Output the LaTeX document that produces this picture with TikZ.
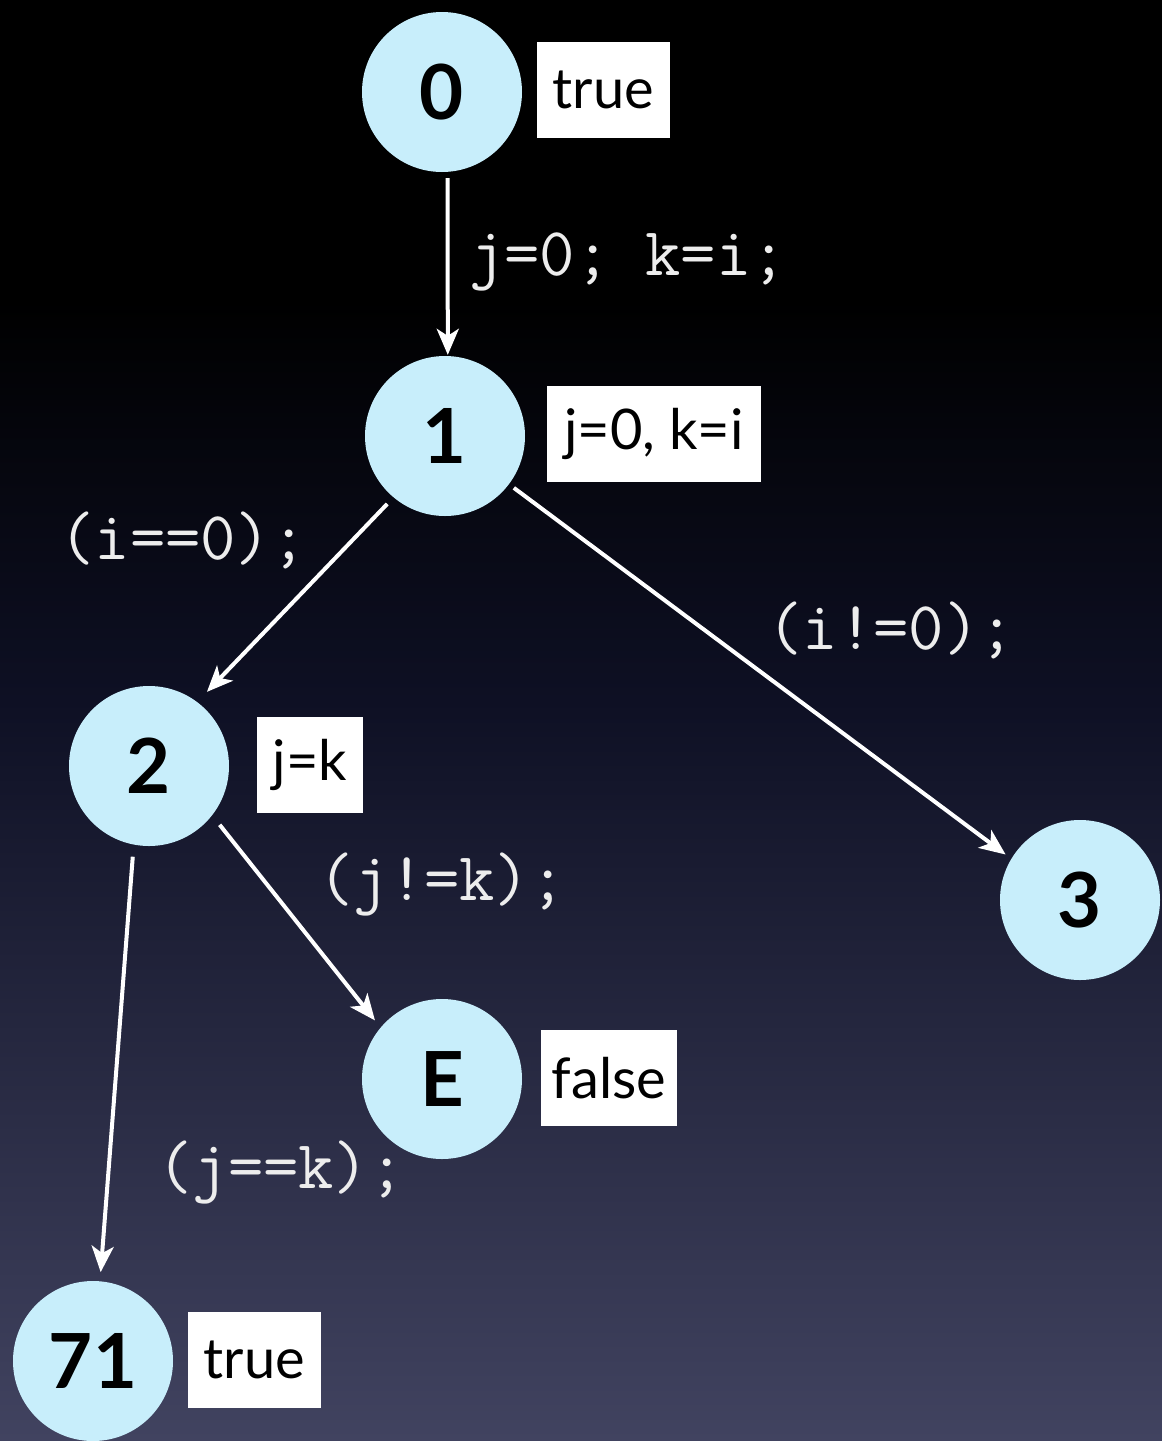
\documentclass[tikz,border=0pt]{standalone}
\usepackage{fontspec}
\setmainfont{Lato}
\usetikzlibrary{arrows.meta}
\definecolor{nodefill}{HTML}{C8EEFB}
\definecolor{bgbot}{HTML}{414360}
\definecolor{bgmid}{HTML}{0E1024}
\definecolor{codecol}{HTML}{EDEDED}
\pgfdeclareverticalshading{bgshade}{100bp}{color(0bp)=(bgbot); color(25bp)=(bgbot); color(50.7bp)=(bgmid); color(64.6bp)=(black); color(75bp)=(black); color(100bp)=(black)}
\tikzset{
  state/.style={circle, fill=nodefill, minimum size=160pt, inner sep=0pt, font=\fontsize{76}{76}\selectfont\bfseries},
  fact/.style={fill=white, minimum height=96pt, inner sep=0pt, font=\fontsize{56}{56}\selectfont},
  code/.style={text=codecol, inner sep=0pt, font=\ttfamily\fontsize{68.6}{68.6}\selectfont},
  arr/.style={draw=white, line width=4pt, -{Stealth[length=26pt, width=22pt, inset=7pt]}}
}
\begin{document}
\begin{tikzpicture}[x=1pt, y=-1pt]
\useasboundingbox (0,0) rectangle (1162,1441);
\shade[shading=bgshade] (0,0) rectangle (1162,1441);
% states
\node[state] (n0) at (442,92) {0};
\node[state] (n1) at (445,436) {1};
\node[state] (n2) at (149,766) {2};
\node[state] (n3) at (1080,900) {3};
\node[state] (nE) at (442,1079) {E};
\node[state] (n71) at (93,1361) {71};
% facts
\node[fact, minimum width=133pt] (f0) at (603.5,90) {true};
\node[fact, minimum width=214pt] (f1) at (654,434) {j=0, k=i};
\node[fact, minimum width=106pt] (f2) at (310,765) {j=k};
\node[fact, minimum width=136pt] (fE) at (609,1078) {false};
\node[fact, minimum width=133pt] (f71) at (254.5,1360) {true};
% edges
\draw[arr, shorten <=6pt, shorten >=1pt] (n0.-86) -- (n1.88);
\draw[arr, shorten <=9pt, shorten >=14pt] (n1.-130) -- (n2.53);
\draw[arr, shorten <=6pt, shorten >=7pt] (n1.-37) -- (n3.149);
\draw[arr, shorten <=12pt, shorten >=9pt] (n2.-38) -- (nE.140);
\draw[arr, shorten <=12pt, shorten >=9pt] (n2.-101) -- (n71.85);
% edge labels
\node[code] (l01) at (628,262) {j=0; k=i;};
\node[code] (l12) at (183,540) {(i==0);};
\node[code] (l13) at (891,630) {(i!=0);};
\node[code] (l2E) at (442,885) {(j!=k);};
\node[code] (l271) at (281,1172) {(j==k);};
\end{tikzpicture}
\end{document}
